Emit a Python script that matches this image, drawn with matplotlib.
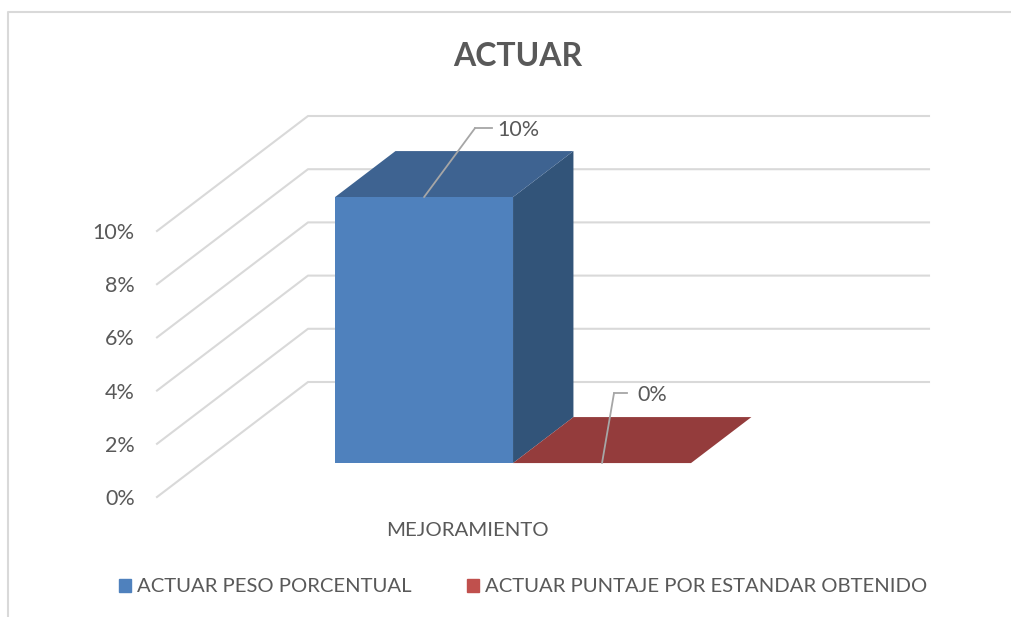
import matplotlib
matplotlib.use("Agg")
import matplotlib.pyplot as plt
from matplotlib.patches import Patch

plt.rcParams["font.family"] = ["Lato", "DejaVu Sans"]

title = "ACTUAR"
category = "MEJORAMIENTO"
series_names = ["ACTUAR PESO PORCENTUAL", "ACTUAR PUNTAJE POR ESTANDAR OBTENIDO"]
series_values = [10, 0]
y_ticks = [0, 2, 4, 6, 8, 10]
y_labels = ["0%", "2%", "4%", "6%", "8%", "10%"]

W, H = 1011, 617
TEXT = "#595959"
GRID = "#D9D9D9"
LEADER = "#A6A6A6"
FRONT = ["#4F81BD", "#C0504D"]
TOP = ["#3E6391", "#943C3C"]
SIDE = ["#325479", "#7A3230"]

# oblique 3d look: how far the back wall is shifted, in data units
DEPTH_X = 151 / 621
DEPTH_Y = 115 / 26.6
BAR_W = 0.2866
BAR_START = 0.215
Z0, Z1 = 0.295, 0.695


def proj(x, y, z):
    return x + z * DEPTH_X, y + z * DEPTH_Y


fig = plt.figure(figsize=(W / 100, H / 100), dpi=100)
ax = fig.add_axes([157 / W, 1 - 497 / H, 621 / W, 266 / H])
ax.set_xlim(0, 1)
ax.set_ylim(0, 10)
ax.patch.set_alpha(0)
for s in ax.spines.values():
    s.set_visible(False)

# walls
for v in y_ticks:
    pts = [proj(0, v, 0), proj(0, v, 1), proj(1, v, 1)]
    ax.plot(*zip(*pts), color=GRID, lw=1.5, clip_on=False, zorder=1)

# bars
for i, v in enumerate(series_values):
    x0 = BAR_START + i * BAR_W
    x1 = x0 + BAR_W
    top = [proj(x0, v, Z0), proj(x1, v, Z0), proj(x1, v, Z1), proj(x0, v, Z1)]
    side = [proj(x1, 0, Z0), proj(x1, v, Z0), proj(x1, v, Z1), proj(x1, 0, Z1)]
    front = [proj(x0, 0, Z0), proj(x1, 0, Z0), proj(x1, v, Z0), proj(x0, v, Z0)]
    ax.fill(*zip(*side), color=SIDE[i], lw=0, clip_on=False, zorder=2 + i)
    ax.fill(*zip(*top), color=TOP[i], lw=0, clip_on=False, zorder=2 + i)
    ax.fill(*zip(*front), color=FRONT[i], lw=0, clip_on=False, zorder=2 + i)

# data labels with leader lines, offsets in pixels from the middle of the front top edge
leaders = [((51, 69), (68, 69), (73, 67)), ((12, 70), (25, 70), (35, 68))]
arrow = dict(arrowstyle="-", color=LEADER, lw=1.3, shrinkA=0, shrinkB=0)
for i, v in enumerate(series_values):
    xy = proj(BAR_START + (i + 0.5) * BAR_W, v, Z0)
    bend, end, label_at = leaders[i]
    ax.annotate("", xy=xy, xytext=bend, textcoords="offset pixels", arrowprops=arrow,
                zorder=6, annotation_clip=False)
    ax.plot([xy[0] + bend[0] / 621, xy[0] + end[0] / 621], [xy[1] + bend[1] / 26.6] * 2,
            color=LEADER, lw=1.3, clip_on=False, zorder=6)
    ax.annotate(y_labels[y_ticks.index(v)], xy=xy, xytext=label_at, textcoords="offset pixels",
                ha="left", va="center", color=TEXT, fontsize=15.5, annotation_clip=False, zorder=6)

ax.set_yticks(y_ticks)
ax.set_yticklabels(y_labels, color=TEXT, fontsize=15.5)
ax.set_xticks([0.5])
ax.set_xticklabels([category], color=TEXT, fontsize=14.7)
ax.tick_params(axis="y", length=0, pad=16)
ax.tick_params(axis="x", length=0, pad=18)

fig.text(518 / W, 1 - 57 / H, title, ha="center", va="center", color=TEXT, fontsize=23, fontweight="bold")

handles = [Patch(color=FRONT[0]), Patch(color=FRONT[1])]
fig.legend(handles, series_names, ncol=2, frameon=False, loc="center", bbox_to_anchor=(523 / W, 1 - 587 / H),
           fontsize=14.6, labelcolor=TEXT, handlelength=0.6, handleheight=0.6, handletextpad=0.3, columnspacing=2.7)

# chart frame, only left and top show in the crop
fig.add_artist(plt.Line2D([8 / W, 8 / W, 1], [0, 1 - 12 / H, 1 - 12 / H], color=GRID, lw=1.5))

fig.savefig("out.png", dpi=100)
